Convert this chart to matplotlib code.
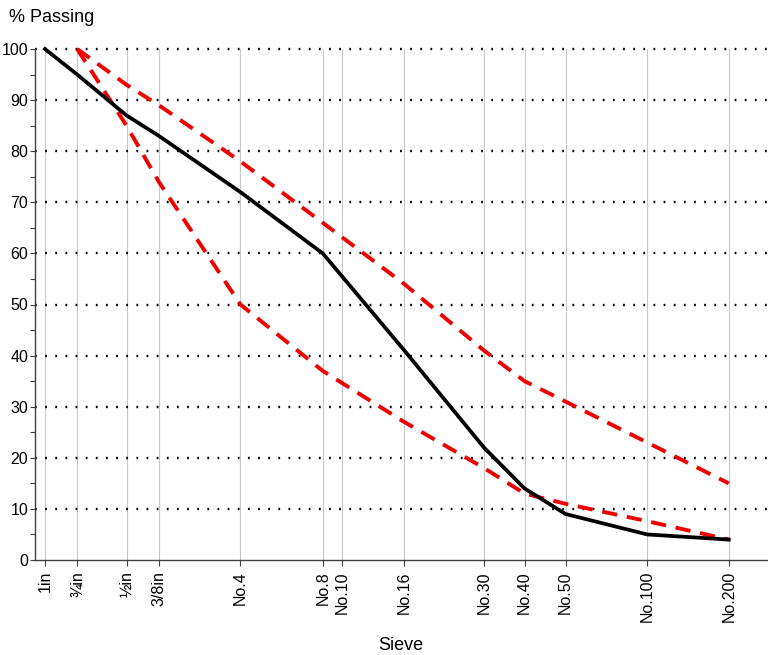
import matplotlib
matplotlib.use("Agg")
import matplotlib.pyplot as plt
from matplotlib.ticker import MultipleLocator, FixedLocator

plt.rcParams['font.family'] = ['Liberation Sans', 'DejaVu Sans']
plt.rcParams['lines.scale_dashes'] = False

# Sieve sizes (mm) and labels
sieve_labels = ["1in", "¾in", "½in", "3/8in", "No.4", "No.8", "No.10", "No.16",
                "No.30", "No.40", "No.50", "No.100", "No.200"]
sieve_sizes = [25.0, 19.0, 12.5, 9.5, 4.75, 2.36, 2.0, 1.18, 0.6, 0.425, 0.3, 0.15, 0.075]

# Gradation (black)
grad_sizes = [25.0, 19.0, 12.5, 9.5, 4.75, 2.36, 1.18, 0.6, 0.425, 0.3, 0.15, 0.075]
grad_pass = [100, 95, 87, 83, 72, 60, 41, 22, 14, 9, 5, 4]

# Specification limits (red dashed)
lim_sizes = [19.0, 12.5, 9.5, 4.75, 2.36, 1.18, 0.6, 0.425, 0.3, 0.15, 0.075]
upper_pass = [100, 93, 89, 78, 66, 54, 41, 35, 31, 23, 15]
lower_pass = [100, 85, 74, 50, 37, 27, 18, 13, 11, 7.6, 4]

W, H = 768, 655
fig = plt.figure(figsize=(W / 100, H / 100), dpi=100)
ax = fig.add_axes([35 / W, (H - 560) / H, (767 - 35) / W, (560 - 49) / H])

ax.set_xscale('log')
ax.set_xlim(27.2, 0.0542)
ax.set_ylim(0, 100)

# grid
for s in sieve_sizes:
    ax.plot([s, s], [0, 100], color='#c8c8c8', lw=0.8, zorder=1)
for yv in range(10, 101, 10):
    ax.axhline(yv, color='black', lw=1.7, linestyle=(0, (1.3, 6.0)), zorder=1, clip_on=False)

ax.plot(lim_sizes, upper_pass, color='#ee0000', lw=2.8, dashes=(11, 7), zorder=3, clip_on=False)
ax.plot(lim_sizes, lower_pass, color='#ee0000', lw=2.8, dashes=(11, 7), zorder=3, clip_on=False)
ax.plot(grad_sizes, grad_pass, color='black', lw=2.7, zorder=4, clip_on=False,
        solid_joinstyle='miter')

ax.xaxis.set_major_locator(FixedLocator(sieve_sizes))
ax.xaxis.set_minor_locator(FixedLocator([]))
ax.set_xticklabels(sieve_labels, rotation=90, fontsize=11.5)
ax.yaxis.set_major_locator(MultipleLocator(10))
ax.yaxis.set_minor_locator(MultipleLocator(5))
ax.tick_params(axis='y', which='major', length=3.5, width=0.8, color='#404040', labelsize=11.5, pad=1.5)
ax.tick_params(axis='y', which='minor', length=3.5, width=0.8, color='#404040')
ax.tick_params(axis='x', which='major', length=4, width=0.8, color='#404040', pad=4)

for sp in ['top', 'right']:
    ax.spines[sp].set_visible(False)
for sp in ['left', 'bottom']:
    ax.spines[sp].set_color('#404040')
    ax.spines[sp].set_linewidth(1.0)

fig.text(9 / W, 1 - 18 / H, "% Passing", fontsize=13, va='center', ha='left')
fig.text(401 / W, 1 - 646 / H, "Sieve", fontsize=13, va='center', ha='center')

fig.savefig("out.png", dpi=100)
